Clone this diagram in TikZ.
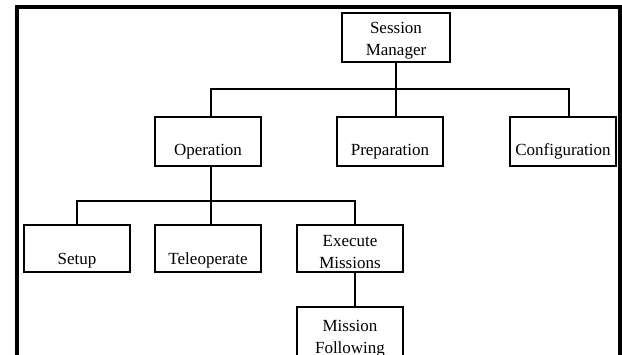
\documentclass[tikz,border=0pt]{standalone}
\usepackage{fontspec}
\setmainfont{Liberation Serif}
\usetikzlibrary{positioning,calc}
\tikzset{
  blk/.style={draw,line width=2.1pt,inner sep=0pt,minimum width=106pt,minimum height=47pt,
              font=\fontsize{17}{22}\selectfont},
  wire/.style={line width=2.1pt},
}

\begin{document}
\begin{tikzpicture}[x=1pt,y=-1pt]
  \useasboundingbox (0,0) rectangle (622,354);
  % outer frame, runs off the bottom of the page
  \draw[line width=4pt] (17,380) -- (17,7) -- (620,7) -- (620,380);

  \node[blk,align=center,minimum width=108pt,text height=42pt,text depth=7pt] (sm) at (396,37.5) {Session\\Manager};
  \foreach \n/\t/\x in {op/Operation/208,prep/Preparation/390,conf/Configuration/563}
    \node[blk,minimum height=49pt,text height=38pt,text depth=11pt] (\n) at (\x,141.5) {\t};
  \foreach \n/\t/\x in {setup/Setup/77,tele/Teleoperate/208}
    \node[blk,text height=39pt,text depth=8pt] (\n) at (\x,248.5) {\t};
  \node[blk,align=center,text height=43pt,text depth=4pt] (exe) at (350,248.5) {Execute\\Missions};
  \node[blk,align=center,text height=46pt,text depth=16pt] (mf) at (350,338) {Mission\\Following};

  % drops sit a little right of the box centres
  \coordinate (opT) at ([xshift=3pt]op.north);
  \coordinate (opB) at ([xshift=3pt]op.south);
  \coordinate (cfT) at ([xshift=6pt]conf.north);
  \coordinate (exT) at ([xshift=5pt]exe.north);
  \coordinate (exB) at ([xshift=5pt]exe.south);

  \draw[wire] (sm.south) -- (sm.south |- prep.north);
  \draw[wire] (opT) |- (cfT |- 0,89) -- (cfT);
  \draw[wire] (opB) -- (opB |- tele.north);
  \draw[wire] (setup.north) |- (exT |- 0,201) -- (exT);
  \draw[wire] (exB) -- (exB |- mf.north);
\end{tikzpicture}
\end{document}
